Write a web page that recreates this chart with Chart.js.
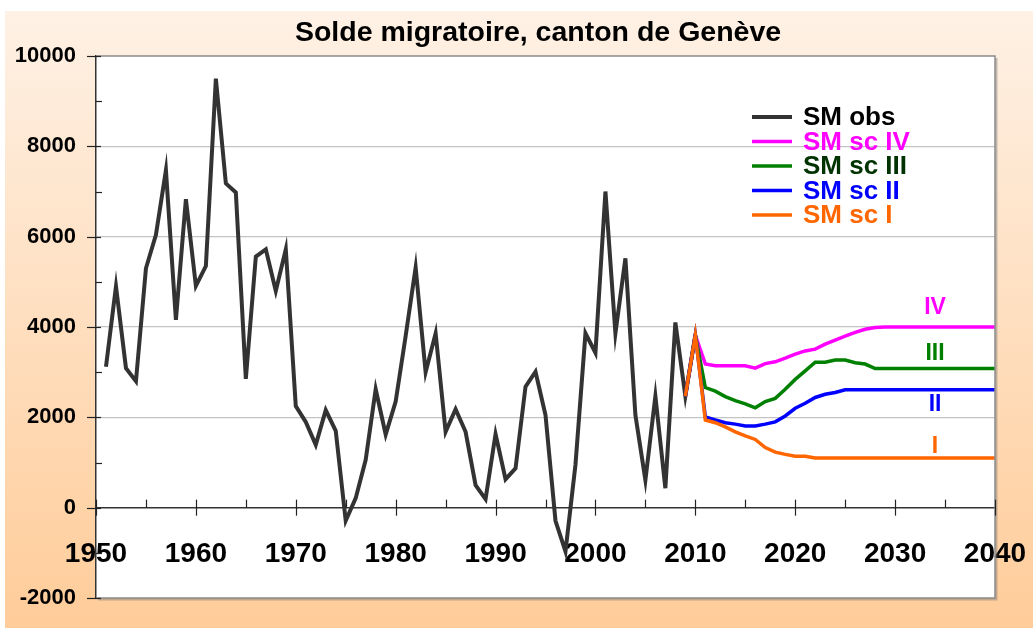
<!DOCTYPE html>
<html><head><meta charset="utf-8">
<script src="https://cdn.jsdelivr.net/npm/chart.js@4.4.1/dist/chart.umd.min.js"></script>
<style>html,body{margin:0;padding:0;background:#fff}#wrap{width:1033px;height:628px}</style>
</head><body><div id="wrap"><canvas id="c" width="1033" height="628"></canvas></div>
<script>
const chartTitle = 'Solde migratoire, canton de Genève';
const obsFirstYear = 1951;
const obsValues = [3120, 4900, 3090, 2800, 5300, 6040, 7470, 4160, 6830, 4910,
  5350, 9500, 7180, 6980, 2850, 5560, 5720, 4800, 5720, 2250,
  1900, 1390, 2160, 1700, -290, 210, 1060, 2620, 1620, 2350,
  3800, 5320, 3000, 3860, 1680, 2180, 1680, 500, 190, 1630,
  630, 870, 2680, 3010, 2050, -290, -970, 950, 3860, 3430,
  7000, 3860, 5520, 2050, 610, 2470, 430, 4100, 2470, 3820];
const scenFirstYear = 2009;
const scIV = [2470, 3820, 3180, 3140, 3140, 3140, 3140, 3090, 3190, 3230, 3310, 3400, 3470, 3510, 3620, 3710,
  3800, 3880, 3950, 3990, 4000, 4000, 4000, 4000, 4000, 4000, 4000, 4000, 4000, 4000, 4000, 4000];
const scIII = [2470, 3820, 2660, 2580, 2460, 2370, 2300, 2210, 2350, 2420, 2620, 2840, 3030, 3220, 3220, 3270,
  3270, 3210, 3180, 3080, 3080, 3080, 3080, 3080, 3080, 3080, 3080, 3080, 3080, 3080, 3080, 3080];
const scII = [2470, 3820, 2010, 1940, 1880, 1850, 1810, 1810, 1850, 1900, 2030, 2200, 2310, 2440, 2510, 2550,
  2610, 2610, 2610, 2610, 2610, 2610, 2610, 2610, 2610, 2610, 2610, 2610, 2610, 2610, 2610, 2610];
const scI = [2470, 3820, 1940, 1880, 1790, 1680, 1590, 1510, 1330, 1230, 1180, 1140, 1140, 1100, 1100, 1100,
  1100, 1100, 1100, 1100, 1100, 1100, 1100, 1100, 1100, 1100, 1100, 1100, 1100, 1100, 1100, 1100];
const seriesLabels = ['SM obs', 'SM sc IV', 'SM sc III', 'SM sc II', 'SM sc I'];
const lineColors = ['#333333', '#FF00FF', '#008000', '#0000FF', '#FF6600'];
const legendTextColors = ['#000000', '#FF00FF', '#003300', '#0000FF', '#FF6600'];
const tagLabels = ['IV', 'III', 'II', 'I'];
const tagColors = ['#FF00FF', '#008000', '#0000FF', '#FF6600'];
const tagYear = 2034;
const tagValues = [4450, 3440, 2310, 1380];
const xTickLabels = [1950, 1960, 1970, 1980, 1990, 2000, 2010, 2020, 2030, 2040];
const yTickLabels = [-2000, 0, 2000, 4000, 6000, 8000, 10000];

const FONT = "'Liberation Sans', Arial, Helvetica, sans-serif";
const toPoints = (first, vals) => vals.map((v, i) => ({x: first + i, y: v}));

const decor = {
  id: 'decor',
  beforeDraw(chart) {
    const {ctx, chartArea: a, width, height} = chart;
    ctx.save();
    ctx.fillStyle = '#ffffff';
    ctx.fillRect(0, 0, width, height);
    const g = ctx.createLinearGradient(0, 11, 0, height);
    g.addColorStop(0, '#FEF1E5');
    g.addColorStop(1, '#FFCC99');
    ctx.fillStyle = g;
    ctx.fillRect(5, 11, width - 5, height - 11);
    ctx.fillStyle = '#ffffff';
    ctx.fillRect(a.left, a.top, a.right - a.left, a.bottom - a.top);
    ctx.restore();
  },
  afterDraw(chart) {
    const {ctx, chartArea: a} = chart;
    const xs = chart.scales.x, ys = chart.scales.y;
    ctx.save();
    // plot frame
    ctx.strokeStyle = '#8a8a8a';
    ctx.lineWidth = 1.5;
    ctx.beginPath();
    ctx.moveTo(a.left, a.top); ctx.lineTo(a.right, a.top);
    ctx.lineTo(a.right, a.bottom); ctx.lineTo(a.left, a.bottom);
    ctx.stroke();
    ctx.strokeStyle = 'rgba(120,120,120,0.45)';
    ctx.lineWidth = 2;
    ctx.beginPath();
    ctx.moveTo(a.right + 1.5, a.top + 2); ctx.lineTo(a.right + 1.5, a.bottom + 1.5);
    ctx.lineTo(a.left + 2, a.bottom + 1.5);
    ctx.stroke();
    // y axis tick marks
    ctx.strokeStyle = '#222';
    ctx.lineWidth = 1.2;
    const ax = a.left;
    for (let v = ys.min; v <= ys.max; v += 1000) {
      const py = Math.round(ys.getPixelForValue(v)) + 0.5;
      ctx.beginPath();
      if (yTickLabels.includes(v)) { ctx.moveTo(ax - 9, py); ctx.lineTo(ax + 5, py); }
      else { ctx.moveTo(ax, py); ctx.lineTo(ax + 6, py); }
      ctx.stroke();
    }
    // x axis tick marks
    const y0 = ys.getPixelForValue(0);
    for (let yr = xs.min; yr <= xs.max; yr += 5) {
      const px = Math.round(xs.getPixelForValue(yr)) + 0.5;
      ctx.beginPath();
      if (xTickLabels.includes(yr)) { ctx.moveTo(px, y0 - 8); ctx.lineTo(px, y0 + 8); }
      else { ctx.moveTo(px, y0 - 8); ctx.lineTo(px, y0); }
      ctx.stroke();
    }
    // scenario tags
    ctx.font = 'bold 23px ' + FONT;
    ctx.textAlign = 'center';
    ctx.textBaseline = 'middle';
    tagLabels.forEach((t, i) => {
      ctx.fillStyle = tagColors[i];
      ctx.fillText(t, xs.getPixelForValue(tagYear), ys.getPixelForValue(tagValues[i]) + 1);
    });
    // legend
    ctx.font = 'bold 26px ' + FONT;
    ctx.textAlign = 'left';
    chart.data.datasets.forEach((ds, i) => {
      const ly = 117 + i * 24.5;
      ctx.strokeStyle = ds.borderColor;
      ctx.lineWidth = i === 0 ? 4 : 3.5;
      ctx.beginPath(); ctx.moveTo(752, ly); ctx.lineTo(792, ly); ctx.stroke();
      ctx.fillStyle = legendTextColors[i];
      ctx.fillText(ds.label, 803, ly + 1);
    });
    ctx.restore();
  }
};

const datasets = [
  {label: seriesLabels[0], data: toPoints(obsFirstYear, obsValues), borderColor: lineColors[0], borderWidth: 4, order: 4},
  {label: seriesLabels[1], data: toPoints(scenFirstYear, scIV), borderColor: lineColors[1], borderWidth: 3.5, order: 3},
  {label: seriesLabels[2], data: toPoints(scenFirstYear, scIII), borderColor: lineColors[2], borderWidth: 3.5, order: 2},
  {label: seriesLabels[3], data: toPoints(scenFirstYear, scII), borderColor: lineColors[3], borderWidth: 3.5, order: 1},
  {label: seriesLabels[4], data: toPoints(scenFirstYear, scI), borderColor: lineColors[4], borderWidth: 3.5, order: 0}
].map(d => Object.assign(d, {pointRadius: 0, tension: 0, fill: false, borderJoinStyle: 'miter', borderCapStyle: 'butt'}));

new Chart(document.getElementById('c'), {
  type: 'line',
  data: {datasets},
  options: {
    responsive: false,
    animation: false,
    devicePixelRatio: 1,
    layout: {padding: {left: 0, right: -43, top: 0, bottom: 30}},
    plugins: {
      legend: {display: false},
      tooltip: {enabled: false},
      title: {
        display: true, text: chartTitle, color: '#000',
        font: {family: FONT, size: 28.5, weight: 'bold', lineHeight: 1.2},
        padding: {top: 16, bottom: 5.8}
      }
    },
    scales: {
      x: {
        type: 'linear', min: 1950, max: 2040,
        position: {y: 0},
        afterBuildTicks: s => { s.ticks = xTickLabels.map(v => ({value: v})); },
        afterFit: s => { s.paddingLeft = 0; s.paddingRight = 0; s.paddingTop = 0; s.paddingBottom = 0; },
        ticks: {
          autoSkip: false, maxRotation: 0, padding: 30, color: '#000',
          font: {family: FONT, size: 28, weight: 'bold'},
          callback: v => String(v)
        },
        grid: {display: false, drawTicks: false, drawOnChartArea: false},
        border: {display: true, color: '#333', width: 1.5}
      },
      y: {
        type: 'linear', min: -2000, max: 10000,
        position: 'left',
        afterFit: s => { s.width = 96; s.paddingTop = 0; s.paddingBottom = 0; },
        ticks: {
          stepSize: 1000, autoSkip: false, padding: 20, color: '#000',
          font: {family: FONT, size: 22, weight: 'bold'},
          callback: v => yTickLabels.includes(v) ? String(v) : ''
        },
        grid: {
          drawTicks: false,
          color: c => (c.tick && c.tick.value % 2000 === 0 && c.tick.value > -2000 && c.tick.value < 10000 && c.tick.value !== 0) ? '#c4c4c4' : 'rgba(0,0,0,0)',
          lineWidth: 1.2
        },
        border: {display: true, color: '#333', width: 1.5}
      },
      yRight: {
        type: 'linear', min: -2000, max: 10000,
        position: 'right',
        afterFit: s => { s.width = 81; s.paddingTop = 0; s.paddingBottom = 0; },
        ticks: {display: false},
        grid: {display: false, drawTicks: false},
        border: {display: false}
      }
    }
  },
  plugins: [decor]
});
</script>
</body></html>
